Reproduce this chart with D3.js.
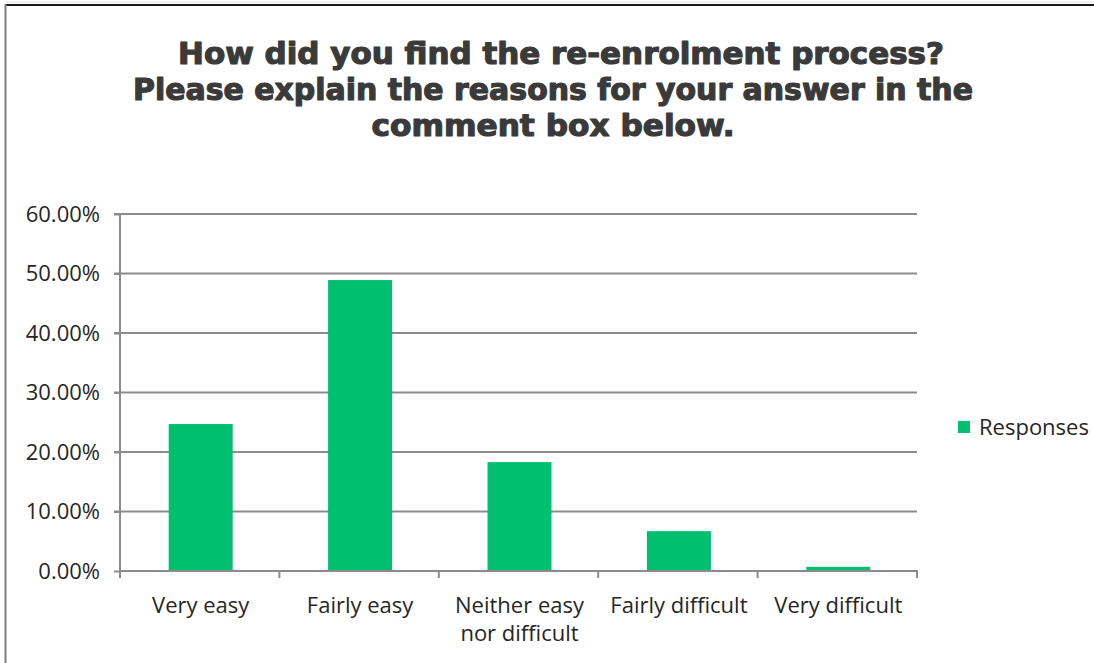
<!DOCTYPE html>
<html><head><meta charset="utf-8">
<script src="https://cdn.jsdelivr.net/npm/d3@7"></script>
<style>html,body{margin:0;padding:0;background:#fff;}svg{display:block;}</style>
</head><body>
<svg id="chart" width="1094" height="663"></svg>
<script>
const categories = ["Very easy", "Fairly easy", "Neither easy nor difficult", "Fairly difficult", "Very difficult"];
const categoryLines = [["Very easy"], ["Fairly easy"], ["Neither easy", "nor difficult"], ["Fairly difficult"], ["Very difficult"]];
const responses = [0.247, 0.489, 0.183, 0.067, 0.007];
const yTicks = [0, 0.1, 0.2, 0.3, 0.4, 0.5, 0.6];
const titleLines = ["How did you find the re-enrolment process?", "Please explain the reasons for your answer in the", "comment box below."];
const seriesName = "Responses";

const svg = d3.select("#chart");
const green = "#00BF6F";
const grid = "#8c8c8c";
const labelFont = "'Open Sans', sans-serif";

// frame
svg.append("line").attr("x1", 6).attr("x2", 1094).attr("y1", 2).attr("y2", 2).attr("stroke", "#e6e6e6").attr("stroke-width", 1);
svg.append("line").attr("x1", 5).attr("x2", 1094).attr("y1", 5).attr("y2", 5).attr("stroke", "#1a1a1a").attr("stroke-width", 2);
svg.append("line").attr("x1", 5.5).attr("x2", 5.5).attr("y1", 4).attr("y2", 663).attr("stroke", "#7f7f7f").attr("stroke-width", 2);

// title
const titleWidths = [766, 840, 363];
const titleG = svg.append("g");
titleLines.forEach((t, i) => {
  titleG.append("text")
    .attr("x", i === 0 ? 561 : 553).attr("y", 64 + i * 36)
    .attr("text-anchor", "middle")
    .attr("font-family", "'DejaVu Sans Condensed', 'DejaVu Sans', sans-serif")
    .attr("font-weight", "bold")
    .attr("font-size", 30.5)
    .attr("fill", "#3a3a3a")
    .attr("stroke", "#3a3a3a").attr("stroke-width", 1.1).attr("stroke-linejoin", "round")
    .attr("textLength", titleWidths[i])
    .attr("lengthAdjust", "spacingAndGlyphs")
    .text(t);
});

const x0 = 120, x1 = 917, yTop = 214, yBot = 571;
const xb = d3.scaleBand().domain(categories).range([x0, x1]);
const y = d3.scaleLinear().domain([0, 0.6]).range([yBot, yTop]);

// gridlines
svg.append("g").selectAll("line").data(yTicks.filter(d => d > 0)).join("line")
  .attr("x1", x0 - 6).attr("x2", x1).attr("y1", d => y(d)).attr("y2", d => y(d))
  .attr("stroke", grid).attr("stroke-width", 2);

// y axis
const yAxis = svg.append("g").attr("transform", `translate(${x0},0)`)
  .call(d3.axisLeft(y).tickValues(yTicks).tickFormat(d => (d * 100).toFixed(2) + "%").tickSize(6).tickPadding(14));
yAxis.select(".domain").attr("stroke", grid).attr("stroke-width", 2).attr("d", `M0,${yTop}V${yBot}`);
yAxis.selectAll(".tick line").attr("stroke", grid).attr("stroke-width", 2);
yAxis.selectAll(".tick text").attr("font-family", labelFont).attr("font-size", 22).attr("fill", "#262626");

// bars
svg.append("g").selectAll("rect").data(responses).join("rect")
  .attr("x", (d, i) => xb(categories[i]) + xb.bandwidth() / 2 - 31)
  .attr("width", 64)
  .attr("y", d => y(d)).attr("height", d => yBot - y(d))
  .attr("fill", green);

// x axis
const xAxisG = svg.append("g");
xAxisG.append("line").attr("x1", x0 - 1).attr("x2", x1 + 1).attr("y1", yBot).attr("y2", yBot).attr("stroke", grid).attr("stroke-width", 2);
const tickPos = categories.map(c => xb(c)).concat([x1]);
xAxisG.selectAll("line.tk").data(tickPos).join("line").attr("class", "tk")
  .attr("x1", d => d).attr("x2", d => d).attr("y1", yBot).attr("y2", yBot + 7)
  .attr("stroke", grid).attr("stroke-width", 2);
categoryLines.forEach((lines, i) => {
  const cx = xb(categories[i]) + xb.bandwidth() / 2 + 1;
  const t = xAxisG.append("text")
    .attr("x", cx).attr("y", 613)
    .attr("text-anchor", "middle")
    .attr("font-family", labelFont).attr("font-size", 22).attr("fill", "#262626");
  lines.forEach((l, j) => t.append("tspan").attr("x", cx).attr("dy", j === 0 ? 0 : 28).text(l));
});

// legend
const lg = svg.append("g");
lg.append("rect").attr("x", 958).attr("y", 421).attr("width", 12).attr("height", 12).attr("fill", green);
lg.append("text").attr("x", 979).attr("y", 435).attr("font-family", labelFont).attr("font-size", 22).attr("fill", "#262626").text(seriesName);
</script>
</body></html>
